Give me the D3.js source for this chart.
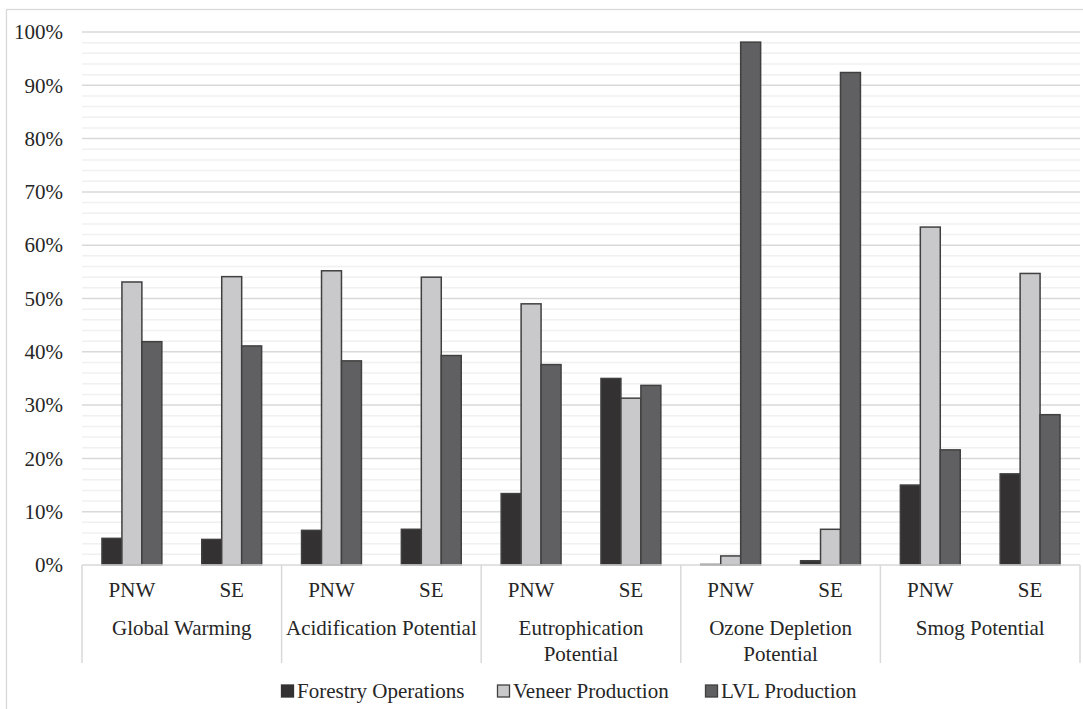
<!DOCTYPE html>
<html><head><meta charset="utf-8">
<script src="https://cdn.jsdelivr.net/npm/d3@7"></script>
<style>body{margin:0;background:#fff;} svg{display:block;} text{font-family:'Liberation Serif','Times New Roman',Times,'DejaVu Serif',serif;}</style>
</head><body>
<svg id="c" width="1083" height="709"></svg>
<script>
const impacts = ["Global Warming","Acidification Potential","Eutrophication Potential","Ozone Depletion Potential","Smog Potential"];
const impactLines = [["Global Warming"],["Acidification Potential"],["Eutrophication","Potential"],["Ozone Depletion","Potential"],["Smog Potential"]];
const regions = ["PNW","SE"];
const seriesNames = ["Forestry Operations","Veneer Production","LVL Production"];
// values in %, order: GW PNW, GW SE, AP PNW, AP SE, EP PNW, EP SE, ODP PNW, ODP SE, SP PNW, SP SE
const forestry = [5.0, 4.8, 6.5, 6.7, 13.4, 35.0, 0.1, 0.8, 15.0, 17.1];
const veneer   = [53.1, 54.1, 55.2, 54.0, 49.0, 31.3, 1.7, 6.7, 63.4, 54.7];
const lvl      = [41.9, 41.1, 38.3, 39.3, 37.6, 33.7, 98.1, 92.4, 21.6, 28.2];
const yTicks = [0,10,20,30,40,50,60,70,80,90,100];

const colors = ["#333132","#c9c9cb","#606062"];
const FONT = "'Liberation Serif','Times New Roman',Times,'DejaVu Serif',serif";
const FS = 21;
const svg = d3.select("#c");
const L = 82, R = 1080, T = 32, B = 565;

svg.append("rect").attr("x",6.5).attr("y",9.5).attr("width",1090).attr("height",720)
  .attr("fill","none").attr("stroke","#d9d9d9").attr("stroke-width",1.3);

const groups = [];
impacts.forEach(imp=>regions.forEach(r=>groups.push(imp+"|"+r)));
const x0 = d3.scaleBand().domain(groups).range([L,R]).paddingInner(0).paddingOuter(0);
const y = d3.scaleLinear().domain([0,100]).range([B,T]);

const minor = d3.range(0,101,2).filter(v=>v%10!==0);
svg.append("g").selectAll("line").data(minor).join("line")
  .attr("x1",L).attr("x2",R).attr("y1",d=>y(d)).attr("y2",d=>y(d))
  .attr("stroke","#f0f0f0").attr("stroke-width",1.5);
svg.append("g").selectAll("line").data(yTicks.filter(v=>v>0)).join("line")
  .attr("x1",L).attr("x2",R).attr("y1",d=>y(d)).attr("y2",d=>y(d))
  .attr("stroke","#d9d9d9").attr("stroke-width",1.5);

const yAxis = d3.axisLeft(y).tickValues(yTicks).tickFormat(d=>d+"%").tickSize(0).tickPadding(19);
const ya = svg.append("g").attr("transform",`translate(${L},0)`).call(yAxis).attr("font-family",FONT);
ya.select(".domain").remove();
ya.selectAll("text").attr("font-size",FS).attr("fill","#262626").style("font-family",FONT);

const series = [forestry, veneer, lvl];
const bw = x0.bandwidth()*0.2;
const off = x0.bandwidth()*0.2;
series.forEach((vals,si)=>{
  svg.append("g").selectAll("rect").data(vals).join("rect")
    .attr("x",(d,i)=>x0(groups[i]) + off + si*bw)
    .attr("y",d=>y(d))
    .attr("width",bw)
    .attr("height",d=>B-y(d))
    .attr("fill",colors[si]).attr("stroke","#404040").attr("stroke-width",1.5);
});

svg.append("line").attr("x1",L).attr("x2",R).attr("y1",B).attr("y2",B).attr("stroke","#d9d9d9").attr("stroke-width",1.5);
const seps = impacts.map(imp=>x0(imp+"|PNW")).concat([R]);
svg.append("g").selectAll("line").data(seps).join("line")
  .attr("x1",d=>d).attr("x2",d=>d).attr("y1",B).attr("y2",663)
  .attr("stroke","#d9d9d9").attr("stroke-width",1.5);

svg.append("g").selectAll("text").data(groups).join("text")
  .attr("x",d=>x0(d)+x0.bandwidth()/2).attr("y",597)
  .attr("text-anchor","middle").attr("font-size",FS).attr("fill","#262626")
  .style("font-family",FONT)
  .text(d=>d.split("|")[1]);

const il = svg.append("g");
impactLines.forEach((lines,i)=>{
  const cx = x0(impacts[i]+"|PNW") + x0.bandwidth();
  lines.forEach((ln,j)=>{
    il.append("text").attr("x",cx).attr("y",635+j*26).attr("text-anchor","middle")
      .attr("font-size",FS).attr("fill","#262626").style("font-family",FONT).text(ln);
  });
});

const legX = [281, 497, 705];
const lg = svg.append("g");
seriesNames.forEach((n,i)=>{
  lg.append("rect").attr("x",legX[i]+0.5).attr("y",685).attr("width",12).attr("height",12)
    .attr("fill",colors[i]).attr("stroke", i===0?colors[0]:"#404040").attr("stroke-width",1.3);
  lg.append("text").attr("x",legX[i]+16).attr("y",698).attr("font-size",FS).attr("fill","#262626")
    .style("font-family",FONT).text(n);
});
</script>
</body></html>
